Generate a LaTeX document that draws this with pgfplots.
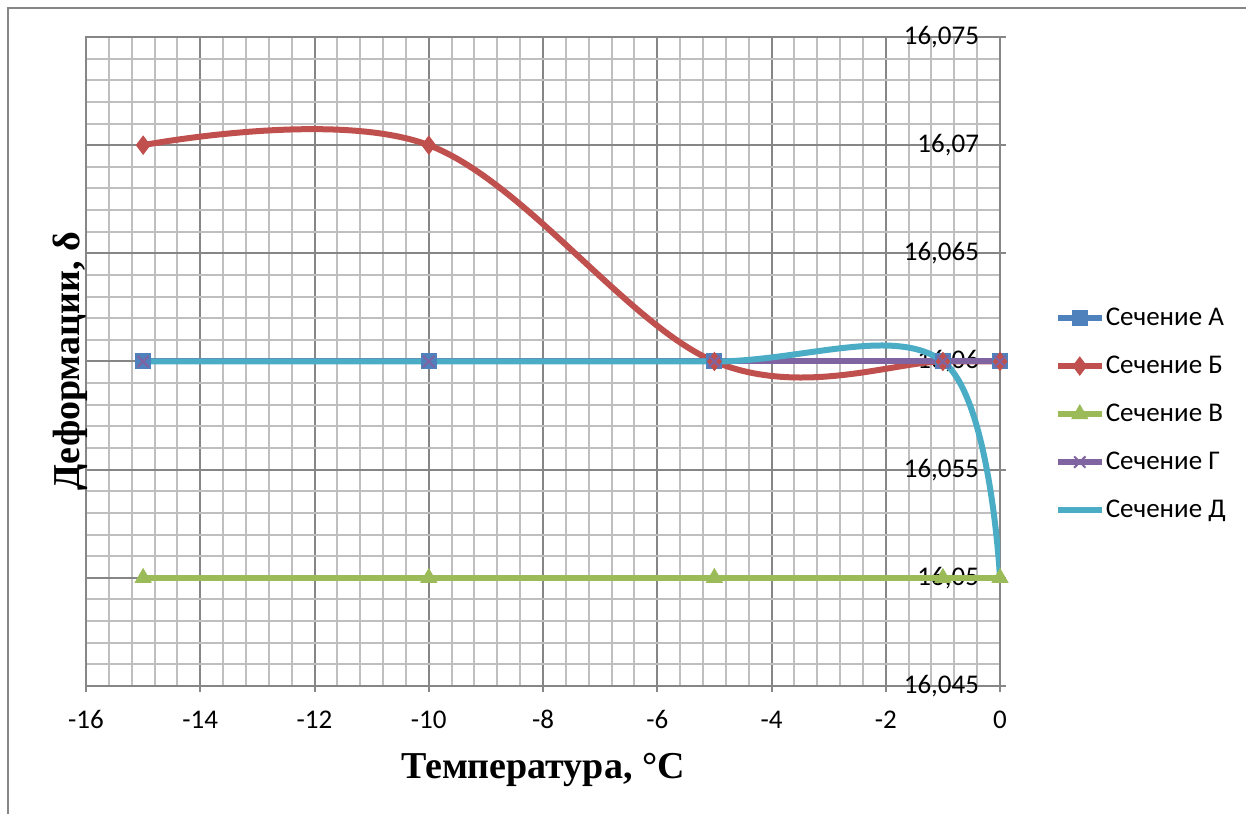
\documentclass[border=0pt]{standalone}
\usepackage{fontspec}
\setmainfont{Liberation Serif}
\newfontfamily\calibri{Carlito}
\usepackage{pgfplots}
\pgfplotsset{compat=1.18}
\definecolor{cA}{HTML}{4F81BD}
\definecolor{cB}{HTML}{C0504D}
\definecolor{cC}{HTML}{9BBB59}
\definecolor{cD}{HTML}{8064A2}
\definecolor{cE}{HTML}{4BACC6}
\definecolor{majgrid}{RGB}{134,134,134}
\definecolor{mingrid}{RGB}{191,191,191}
\newcommand{\tickfont}{\calibri\fontsize{13.5bp}{16bp}\selectfont}
\newcommand{\legfont}{\calibri\fontsize{13.5bp}{16bp}\selectfont}
\begin{document}
\begin{tikzpicture}
\useasboundingbox (0,0) rectangle (623bp,407bp);
\draw[majgrid, line width=1bp] (4bp,0) -- (4bp,403bp) -- (623bp,403bp);
\begin{axis}[
  at={(43bp,64bp)}, anchor=south west,
  scale only axis, width=457bp, height=324.5bp,
  xmin=-16, xmax=0, ymin=16.045, ymax=16.075,
  xtick={-16,-14,...,0},
  ytick={16.045,16.05,16.055,16.06,16.065,16.07,16.075},
  minor x tick num=4, minor y tick num=4,
  grid=both,
  major grid style={majgrid, line width=1bp},
  minor grid style={mingrid, line width=1bp},
  axis line style={majgrid, line width=1bp},
  tick style={majgrid, line width=1bp},
  tick align=outside, major tick length=3bp, minor tick length=0pt,
  scaled y ticks=false,
  /pgf/number format/assume math mode=true,
  tick label style={font=\tickfont, text=black},
  xticklabel style={anchor=base, yshift=-18.5bp},
  ytick pos=right, yticklabel pos=right,
  yticklabel style={anchor=east, xshift=-10bp, /pgf/number format/.cd, use comma, fixed, precision=3},
  xtick pos=bottom,
  xlabel={\bfseries Температура, °С},
  ylabel={\bfseries Деформации, δ},
  xlabel style={font=\fontsize{19bp}{22bp}\selectfont, at={(axis description cs:0.5,-0.1418)}, anchor=base, inner sep=0pt},
  ylabel style={font=\fontsize{19bp}{22bp}\selectfont, at={(axis description cs:-0.0066,0.5)}, anchor=base, inner sep=0pt},
  legend style={draw=none, fill=none, at={(axis description cs:1.0595,0.419)}, anchor=west,
    font=\legfont, row sep=10.5bp, inner sep=0pt,
    nodes={inner sep=0pt, text height=10.5bp, text depth=3bp},
    /tikz/every odd column/.append style={column sep=0.5bp}},
  legend cell align=left,
  legend image code/.code={\draw[mark repeat=2,mark phase=2,#1] plot coordinates {(0bp,0bp)(11bp,0bp)(22bp,0bp)};},
  every axis plot/.append style={line width=3bp, smooth, tension=0.6},
]
\addplot[cA, mark=square*, mark size=3.75bp, mark options={line width=0.5bp}] coordinates {(-15,16.06)(-10,16.06)(-5,16.06)(-1,16.06)(0,16.06)};
\addlegendentry{Сечение А}
\addplot[cB, mark=diamond*, mark size=4.5bp, mark options={line width=0.5bp}] coordinates {(-15,16.07)(-10,16.07)(-5,16.06)(-1,16.06)(0,16.06)};
\addlegendentry{Сечение Б}
\addplot[cC, mark=triangle*, mark size=4.5bp, mark options={line width=0.5bp}] coordinates {(-15,16.05)(-10,16.05)(-5,16.05)(-1,16.05)(0,16.05)};
\addlegendentry{Сечение В}
\addplot[cD, mark=x, mark size=4bp, mark options={line width=1bp}] coordinates {(-15,16.06)(-10,16.06)(-5,16.06)(-1,16.06)(0,16.06)};
\addlegendentry{Сечение Г}
\addplot[cE, no marks] coordinates {(-15,16.06)(-10,16.06)(-5,16.06)(-1,16.06)(0,16.05)};
\addlegendentry{Сечение Д}
\end{axis}
\end{tikzpicture}
\end{document}
